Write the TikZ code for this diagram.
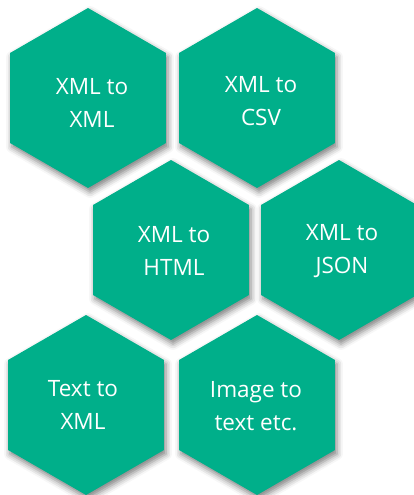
\documentclass[tikz,border=0pt]{standalone}
\usepackage{fontspec}
\setmainfont{Open Sans}
\usetikzlibrary{shapes.geometric,shadows.blur}
\definecolor{hexgreen}{RGB}{0,175,138}
\tikzset{
  hexa/.style={regular polygon, regular polygon sides=6, regular polygon rotate=30,
    minimum size=180pt, inner sep=0pt, outer sep=0pt, fill=hexgreen,
    blur shadow={shadow xshift=2pt, shadow yshift=-4pt, shadow blur radius=6pt, shadow opacity=50}},
  hextext/.style={text=white, align=center, font=\fontsize{22.5}{33}\selectfont, inner sep=0pt}
}
\begin{document}
\begin{tikzpicture}[x=1pt,y=1pt]
\useasboundingbox (0,0) rectangle (414,-495);
\node[hexa] (h1) at (88,-98) {};
\node[hexa] (h2) at (257,-98) {};
\node[hexa] (h3) at (171,-250) {};
\node[hexa] (h4) at (339,-250) {};
\node[hexa] (h5) at (86,-405) {};
\node[hexa] (h6) at (257,-405) {};
\node[hextext] (t1) at ([shift={(4,-5)}]h1.center) {XML to\\XML};
\node[hextext] (t2) at ([shift={(4,-3)}]h2.center) {XML to\\CSV};
\node[hextext] (t3) at ([shift={(3,-1)}]h3.center) {XML to\\HTML};
\node[hextext] (t4) at ([shift={(3,-1)}]h4.center) {XML to\\JSON};
\node[hextext] (t5) at ([shift={(-3,0)}]h5.center) {Text to\\XML};
\node[hextext] (t6) at ([shift={(-1,-1)}]h6.center) {Image to\\text etc.};
\end{tikzpicture}
\end{document}
